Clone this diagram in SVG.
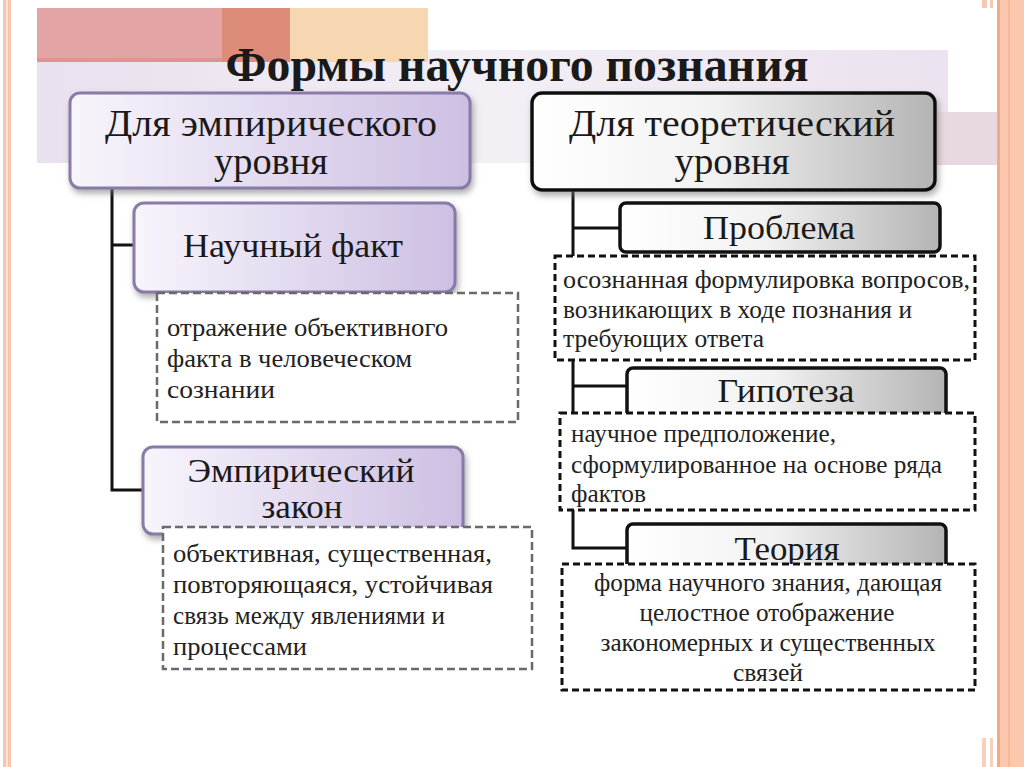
<svg xmlns="http://www.w3.org/2000/svg" width="1024" height="767" viewBox="0 0 1024 767">
<defs>
<linearGradient id="gPurple" x1="0" y1="0" x2="1" y2="0">
<stop offset="0" stop-color="#f8f5fc"/>
<stop offset="1" stop-color="#cdbfe3"/>
</linearGradient>
<linearGradient id="gGray" x1="0" y1="0" x2="1" y2="0">
<stop offset="0" stop-color="#ffffff"/>
<stop offset="0.45" stop-color="#f2f2f2"/>
<stop offset="1" stop-color="#b4b4b4"/>
</linearGradient>
<linearGradient id="gBand" x1="0" y1="0" x2="1" y2="0">
<stop offset="0" stop-color="#e9e1ee"/>
<stop offset="0.5" stop-color="#f3eff5"/>
<stop offset="1" stop-color="#ebe3ef"/>
</linearGradient>
<filter id="sh" x="-10%" y="-10%" width="125%" height="135%">
<feDropShadow dx="2" dy="4" stdDeviation="3" flood-color="#777" flood-opacity="0.6"/>
</filter>
<style>
text{font-family:"Liberation Serif","Times New Roman",serif;fill:#1a1a1a}
.hdr{font-size:38px;text-anchor:middle}
.lbl{font-size:34px;text-anchor:middle}
.txt{font-size:25px;fill:#222}
.ctr{text-anchor:middle}
.pbox{fill:url(#gPurple);stroke:#8a7aa8;stroke-width:3;filter:url(#sh)}
.gbox{fill:url(#gGray);stroke:#111;stroke-width:3.5}
.dl{fill:#fff;stroke:#6a6a6a;stroke-width:2.5;stroke-dasharray:8 4}
.dr{fill:#fff;stroke:#111;stroke-width:3;stroke-dasharray:7 4}
.con{fill:none;stroke:#111;stroke-width:3}
</style>
</defs>
<rect width="1024" height="767" fill="#ffffff"/>
<g id="decor">
<rect x="3" y="0" width="8" height="767" fill="#f6c6ae"/>
<rect x="6" y="0" width="2" height="767" fill="#fbe2d4"/>
<rect x="37" y="50" width="911" height="113" fill="url(#gBand)"/>
<rect x="930" y="112" width="67" height="53" fill="#e8d8e2"/>
<rect x="37" y="8" width="186" height="54" fill="#e2a4a4"/>
<rect x="222" y="8" width="68" height="54" fill="#de8c7a"/>
<rect x="290" y="8" width="138" height="54" fill="#f7d6b2"/>
<rect x="37" y="58" width="253" height="4" fill="#d88a8a" opacity="0.6"/>
<rect x="997" y="0" width="27" height="767" fill="#fbc8ae"/>
<rect x="997" y="0" width="3" height="767" fill="#f1a988"/>
<rect x="1008" y="0" width="2" height="767" fill="#f6b899"/>
<rect x="982" y="0" width="5" height="8" fill="#f8c8b4"/>
<rect x="990" y="0" width="3" height="8" fill="#f8c8b4"/>
<rect x="982" y="738" width="4" height="29" fill="#f8d0bc"/>
<rect x="990" y="738" width="3" height="29" fill="#f8d0bc"/>
</g>
<text x="517" y="81" textLength="583" lengthAdjust="spacingAndGlyphs" style="font-size:48px;font-weight:bold;text-anchor:middle">Формы научного познания</text>
<g id="connectors">
<path class="con" d="M112,188 V490 H144 M112,245 H135"/>
<path class="con" d="M573,190 V548 H628 M573,228 H621 M573,386 H628"/>
</g>
<g id="empirical-level">
<rect class="pbox" x="70" y="93" width="400" height="95" rx="10"/>
<text class="hdr" x="271" y="136" textLength="332" lengthAdjust="spacingAndGlyphs">Для эмпирического</text>
<text class="hdr" x="271" y="174" textLength="114" lengthAdjust="spacingAndGlyphs">уровня</text>
</g>
<g id="fact">
<rect class="pbox" x="134" y="203" width="321" height="89" rx="10"/>
<text class="lbl" x="293" y="257" textLength="220" lengthAdjust="spacingAndGlyphs">Научный факт</text>
</g>
<g id="fact-desc">
<rect class="dl" x="157" y="293" width="361" height="129"/>
<text class="txt" x="167" y="336" textLength="281" lengthAdjust="spacingAndGlyphs">отражение объективного</text>
<text class="txt" x="167" y="367" textLength="245" lengthAdjust="spacingAndGlyphs">факта в человеческом</text>
<text class="txt" x="167" y="398" textLength="108" lengthAdjust="spacingAndGlyphs">сознании</text>
</g>
<g id="law">
<rect class="pbox" x="143" y="447" width="320" height="87" rx="10"/>
<text class="lbl" x="301" y="482" textLength="227" lengthAdjust="spacingAndGlyphs">Эмпирический</text>
<text class="lbl" x="302" y="518" textLength="81" lengthAdjust="spacingAndGlyphs">закон</text>
</g>
<g id="law-desc">
<rect class="dl" x="163" y="527" width="369" height="142"/>
<text class="txt" x="173" y="562" textLength="319" lengthAdjust="spacingAndGlyphs">объективная, существенная,</text>
<text class="txt" x="173" y="593" textLength="320" lengthAdjust="spacingAndGlyphs">повторяющаяся, устойчивая</text>
<text class="txt" x="173" y="624" textLength="272" lengthAdjust="spacingAndGlyphs">связь между явлениями и</text>
<text class="txt" x="173" y="655" textLength="134" lengthAdjust="spacingAndGlyphs">процессами</text>
</g>
<g id="theoretical-level">
<rect class="gbox" x="532" y="93" width="403" height="97" rx="10" filter="url(#sh)"/>
<text class="hdr" x="732" y="136" textLength="326" lengthAdjust="spacingAndGlyphs">Для теоретический</text>
<text class="hdr" x="732" y="174" textLength="115" lengthAdjust="spacingAndGlyphs">уровня</text>
</g>
<g id="problem">
<rect class="gbox" x="620" y="203" width="320" height="49" rx="6"/>
<text class="lbl" x="779" y="239" textLength="152" lengthAdjust="spacingAndGlyphs">Проблема</text>
</g>
<g id="problem-desc">
<rect class="dr" x="555" y="256" width="420" height="104"/>
<text class="txt" x="563" y="288" textLength="407" lengthAdjust="spacingAndGlyphs">осознанная формулировка вопросов,</text>
<text class="txt" x="563" y="318" textLength="349" lengthAdjust="spacingAndGlyphs">возникающих в ходе познания и</text>
<text class="txt" x="563" y="347" textLength="201" lengthAdjust="spacingAndGlyphs">требующих ответа</text>
</g>
<g id="hypothesis">
<rect class="gbox" x="627" y="368" width="319" height="60" rx="6"/>
<text class="lbl" x="786" y="402" textLength="137" lengthAdjust="spacingAndGlyphs">Гипотеза</text>
</g>
<g id="hypothesis-desc">
<rect class="dr" x="560" y="413" width="415" height="97"/>
<text class="txt" x="571" y="442" textLength="265" lengthAdjust="spacingAndGlyphs">научное предположение,</text>
<text class="txt" x="571" y="473" textLength="371" lengthAdjust="spacingAndGlyphs">сформулированное на основе ряда</text>
<text class="txt" x="571" y="502" textLength="75" lengthAdjust="spacingAndGlyphs">фактов</text>
</g>
<g id="theory">
<rect class="gbox" x="627" y="524" width="319" height="60" rx="6"/>
<text class="lbl" x="787" y="560" textLength="105" lengthAdjust="spacingAndGlyphs">Теория</text>
</g>
<g id="theory-desc">
<rect class="dr" x="562" y="564" width="413" height="126"/>
<text class="txt ctr" x="768" y="591" textLength="348" lengthAdjust="spacingAndGlyphs">форма научного знания, дающая</text>
<text class="txt ctr" x="767" y="621" textLength="255" lengthAdjust="spacingAndGlyphs">целостное отображение</text>
<text class="txt ctr" x="768" y="651" textLength="335" lengthAdjust="spacingAndGlyphs">закономерных и существенных</text>
<text class="txt ctr" x="768" y="681" textLength="70" lengthAdjust="spacingAndGlyphs">связей</text>
</g>
</svg>
